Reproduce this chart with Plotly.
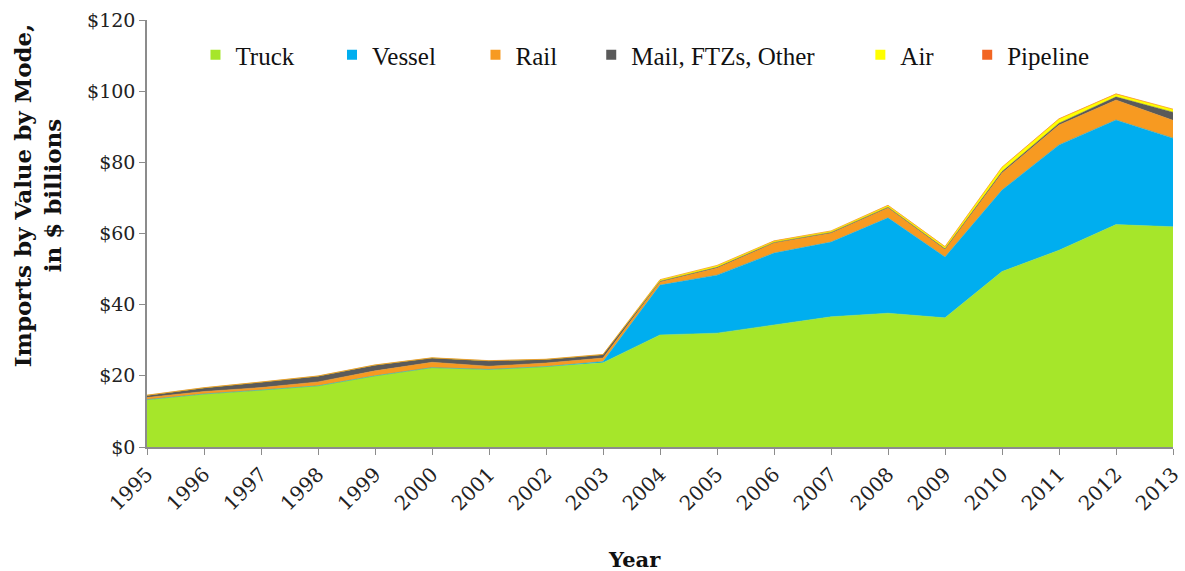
import plotly.graph_objects as go

# ---- data (in $ billions) ----
years = list(range(1995, 2014))
truck    = [13.3, 14.9, 16.0, 17.2, 20.0, 22.3, 21.8, 22.6, 23.7, 31.5, 32.0, 34.2, 36.6, 37.6, 36.3, 49.3, 55.3, 62.5, 61.9]
vessel   = [0.0, 0.0, 0.0, 0.0, 0.0, 0.0, 0.0, 0.0, 0.3, 14.0, 16.3, 20.3, 21.0, 26.8, 17.1, 22.9, 29.6, 29.4, 24.9]
rail     = [0.6, 0.7, 0.7, 1.1, 1.4, 1.5, 0.9, 1.0, 1.0, 0.9, 2.0, 2.8, 2.5, 2.8, 2.1, 4.8, 5.6, 5.6, 5.0]
mail     = [0.6, 1.0, 1.5, 1.6, 1.6, 1.2, 1.5, 1.0, 0.9, 0.2, 0.2, 0.2, 0.2, 0.2, 0.2, 0.4, 0.5, 0.9, 2.3]
air      = [0.05, 0.05, 0.05, 0.05, 0.05, 0.05, 0.05, 0.05, 0.1, 0.4, 0.5, 0.4, 0.4, 0.5, 0.6, 1.2, 1.2, 0.8, 0.8]
pipeline = [0.02, 0.02, 0.02, 0.02, 0.02, 0.02, 0.02, 0.02, 0.02, 0.03, 0.03, 0.03, 0.03, 0.03, 0.03, 0.05, 0.05, 0.05, 0.05]

y_ticks = [0, 20, 40, 60, 80, 100, 120]
y_ticktext = ["$" + str(v) for v in y_ticks]
x_ticktext = [str(y) for y in years]

names  = ["Truck", "Vessel", "Rail", "Mail, FTZs, Other", "Air", "Pipeline"]
colors = ["#A6E62A", "#00AEEF", "#F79A21", "#5A5A5A", "#FFFF00", "#F26522"]
values = [truck, vessel, rail, mail, air, pipeline]

legend_px = [216, 354, 499, 616, 888, 996]   # legend marker centres (page px)

W, H = 1185, 571
ML, MT = 147, 20
PW, PH = 1037, 427
MR = W - ML - PW
MB = H - MT - PH

def px_x(px):
    return (px - ML) / PW

def px_y(py):
    return (MT + PH - py) / PH

fig = go.Figure()
for name, vals, col in zip(names, values, colors):
    fig.add_trace(go.Scatter(
        x=years, y=vals, name=name, stackgroup="one", mode="lines",
        line=dict(width=0.5, color=col), fillcolor=col, showlegend=False,
    ))

serif = "Georgia, 'DejaVu Serif', serif"
legend_layout = {}
for i, (name, col, px) in enumerate(zip(names, colors, legend_px)):
    key = "legend" if i == 0 else f"legend{i+1}"
    fig.add_trace(go.Scatter(
        x=[None], y=[None], mode="markers", name=name,
        marker=dict(symbol="square", size=10, color=col),
        legend=key, showlegend=True,
    ))
    legend_layout[key] = dict(
        x=px_x(px - 20), y=px_y(55),
        xanchor="left", yanchor="middle", orientation="h",
        bgcolor="rgba(0,0,0,0)", borderwidth=0,
        font=dict(family="'Liberation Serif', serif", size=25, color="#111111"),
        itemwidth=30,
    )

fig.update_layout(
    width=W, height=H,
    margin=dict(l=ML, r=MR, t=MT, b=MB),
    paper_bgcolor="white", plot_bgcolor="white",
    font=dict(family=serif, size=18, color="#222222"),
    xaxis=dict(
        range=[1995, 2013], tickvals=years, ticktext=x_ticktext,
        tickangle=-45, showgrid=False, zeroline=False,
        showline=True, linecolor="#8C8C8C", linewidth=1.5,
        ticks="outside", ticklen=6, tickcolor="#8C8C8C",
        ticklabeloverflow="allow",
        tickfont=dict(family=serif, size=20, color="#222222"),
    ),
    yaxis=dict(
        range=[0, 120], tickvals=y_ticks, ticktext=y_ticktext,
        showgrid=False, zeroline=False,
        showline=True, linecolor="#8C8C8C", linewidth=1.5,
        ticks="outside", ticklen=6, tickcolor="#8C8C8C",
        tickfont=dict(family=serif, size=19, color="#222222"),
    ),
    annotations=[
        dict(text="<b>Imports by Value by Mode,<br>in $ billions</b>",
             xref="paper", yref="paper", x=px_x(36), y=px_y(196),
             xanchor="center", yanchor="middle", textangle=-90, showarrow=False,
             font=dict(family=serif, size=23, color="#111111")),
        dict(text="<b>Year</b>", xref="paper", yref="paper",
             x=px_x(640), y=px_y(559),
             xanchor="center", yanchor="middle", showarrow=False,
             font=dict(family=serif, size=21, color="#111111")),
    ],
    **legend_layout,
)

post = (
    "document.documentElement.style.overflow='hidden';"
    "document.body.style.margin='0';"
    "document.body.style.overflow='hidden';"
    "var d=document.getElementById('{plot_id}');"
    "d.style.overflow='hidden';"
    "d.parentElement.style.overflow='hidden';"
    "d.parentElement.style.width='1185px';"
)

fig.write_html(
    "out.html",
    config={"displayModeBar": False},
    post_script=post,
)
